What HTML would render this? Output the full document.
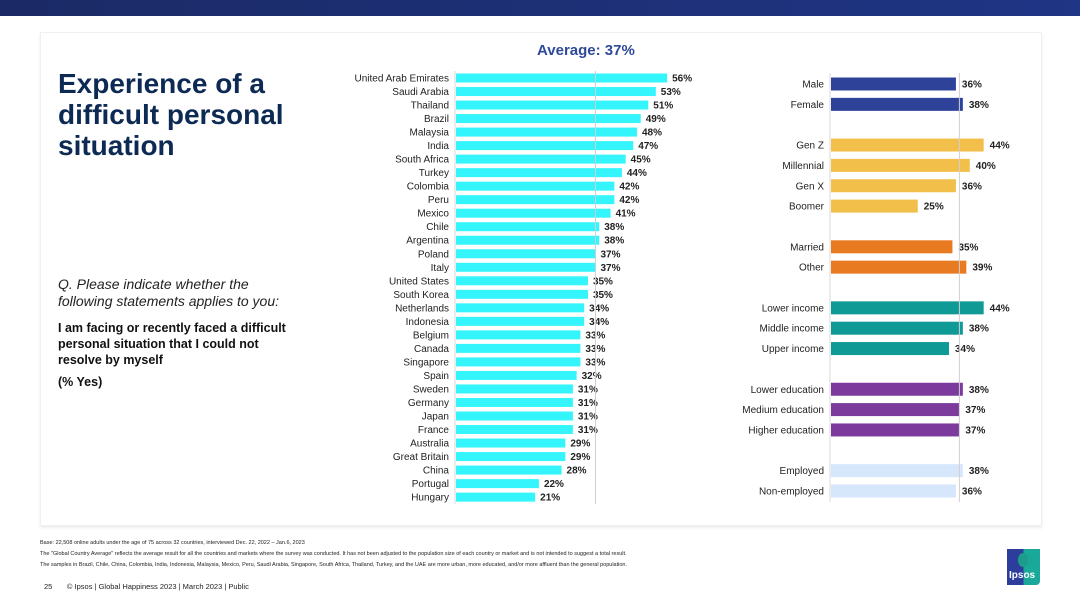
<!DOCTYPE html>
<html><head><meta charset="utf-8">
<style>
body{margin:0;width:1080px;height:608px;background:#fff;font-family:"Liberation Sans",Arial,sans-serif;position:relative;overflow:hidden}
.abs{position:absolute}
</style></head><body>
<div class="abs" style="left:0;top:0;width:1080px;height:16px;background:linear-gradient(90deg,#1b2a66,#1f3585)"></div>
<div class="abs" style="left:40px;top:32px;width:1000px;height:492px;border:1px solid #f0f0f0;box-shadow:0 2px 3px rgba(0,0,0,0.08)"></div>
<div class="abs" style="left:58px;top:68px;font-size:28px;font-weight:bold;color:#0d2a55;line-height:31px">Experience of a<br>difficult personal<br>situation</div>
<div class="abs" style="left:58px;top:276px;font-size:14px;font-style:italic;color:#222;line-height:17px">Q. Please indicate whether the<br>following statements applies to you:</div>
<div class="abs" style="left:58px;top:320px;font-size:12.5px;font-weight:bold;color:#111;line-height:16px">I am facing or recently faced a difficult<br>personal situation that I could not<br>resolve by myself</div>
<div class="abs" style="left:58px;top:375px;font-size:12.5px;font-weight:bold;color:#111">(% Yes)</div>
<div class="abs" style="left:537px;top:42px;font-size:15px;font-weight:bold;color:#2e4a9a">Average: 37%</div>
<svg class="abs" style="left:0;top:0" width="1080" height="608" id="chart"></svg>
<div class="abs" style="left:40px;top:538px;font-size:5.5px;color:#222;line-height:11px">Base: 22,508 online adults under the age of 75 across 32 countries, interviewed Dec. 22, 2022 – Jan.6, 2023<br>The "Global Country Average" reflects the average result for all the countries and markets where the survey was conducted. It has not been adjusted to the population size of each country or market and is not intended to suggest a total result.<br>The samples in Brazil, Chile, China, Colombia, India, Indonesia, Malaysia, Mexico, Peru, Saudi Arabia, Singapore, South Africa, Thailand, Turkey, and the UAE are more urban, more educated, and/or more affluent than the general population.</div>
<div class="abs" style="left:44px;top:582px;font-size:7.5px;color:#222">25&nbsp;&nbsp;&nbsp;&nbsp;&nbsp;&nbsp;&nbsp;© Ipsos | Global Happiness 2023 | March 2023 | Public</div>
<div class="abs" style="left:1007px;top:549px;width:33px;height:36px;background:linear-gradient(90deg,#2c3d9c 50%,#19a89a 50%);border-radius:0 0 4px 0">
<div style="position:absolute;left:11px;top:4px;width:10px;height:14px;border-radius:50%;background:#1d9c8c"></div>
<div style="position:absolute;left:2px;top:21px;font-size:10px;font-weight:bold;color:#fff">Ipsos</div></div>
<script>
const countries=["United Arab Emirates","Saudi Arabia","Thailand","Brazil","Malaysia","India","South Africa","Turkey","Colombia","Peru","Mexico","Chile","Argentina","Poland","Italy","United States","South Korea","Netherlands","Indonesia","Belgium","Canada","Singapore","Spain","Sweden","Germany","Japan","France","Australia","Great Britain","China","Portugal","Hungary"];
const countryValues=[56,53,51,49,48,47,45,44,42,42,41,38,38,37,37,35,35,34,34,33,33,33,32,31,31,31,31,29,29,28,22,21];
const groups=["Male","Female","Gen Z","Millennial","Gen X","Boomer","Married","Other","Lower income","Middle income","Upper income","Lower education","Medium education","Higher education","Employed","Non-employed"];
const groupValues=[36,38,44,40,36,25,35,39,44,38,34,38,37,37,38,36];
const groupSlots=[0,1,3,4,5,6,8,9,11,12,13,15,16,17,19,20];
const groupColors=["#2e429a","#2e429a","#f2bf4b","#f2bf4b","#f2bf4b","#f2bf4b","#e87b22","#e87b22","#109a96","#109a96","#109a96","#7b3a9c","#7b3a9c","#7b3a9c","#d6e6fb","#d6e6fb"];
const average=37;
const svg=document.getElementById('chart');const NS='http://www.w3.org/2000/svg';
function mk(t,a,txt){const e=document.createElementNS(NS,t);for(const k in a)e.setAttribute(k,a[k]);if(txt!=null)e.textContent=txt;svg.appendChild(e);return e;}
const xL=v=>456+v*3.77, yL=i=>78+i*13.52;
const xR=v=>831+v*3.47, yR=s=>84+s*20.35;
// left chart
let l=mk('line',{x1:455,y1:71,x2:455,y2:504,stroke:'#d8d8d8','stroke-width':1});

countries.forEach((c,i)=>{
 let r=mk('rect',{x:xL(0),y:yL(i)-4.5,width:xL(countryValues[i])-xL(0),height:9,fill:'#33f5fb'});
 
 let t=mk('text',{x:449,y:yL(i)+3.5,'text-anchor':'end','font-size':10,fill:'#222'},c);
 
 let v=mk('text',{x:xL(countryValues[i])+5,y:yL(i)+3.5,'font-size':10,'font-weight':'bold',fill:'#222'},countryValues[i]+'%');
 
});
let a1=mk('line',{x1:xL(average),y1:71,x2:xL(average),y2:504,stroke:'#d0d0d0','stroke-width':1});

// right chart
let l2=mk('line',{x1:830,y1:73,x2:830,y2:502,stroke:'#d8d8d8','stroke-width':1});

groups.forEach((g,i)=>{
 const y=yR(groupSlots[i]);
 let r=mk('rect',{x:xR(0),y:y-6.5,width:xR(groupValues[i])-xR(0),height:13,fill:groupColors[i]});
 
 let t=mk('text',{x:824,y:y+3.5,'text-anchor':'end','font-size':10,fill:'#222'},g);
 
 let v=mk('text',{x:xR(groupValues[i])+6,y:y+3.5,'font-size':10,'font-weight':'bold',fill:'#222'},groupValues[i]+'%');
 
});
let a2=mk('line',{x1:xR(average),y1:73,x2:xR(average),y2:502,stroke:'#d0d0d0','stroke-width':1});

</script>
</body></html>
